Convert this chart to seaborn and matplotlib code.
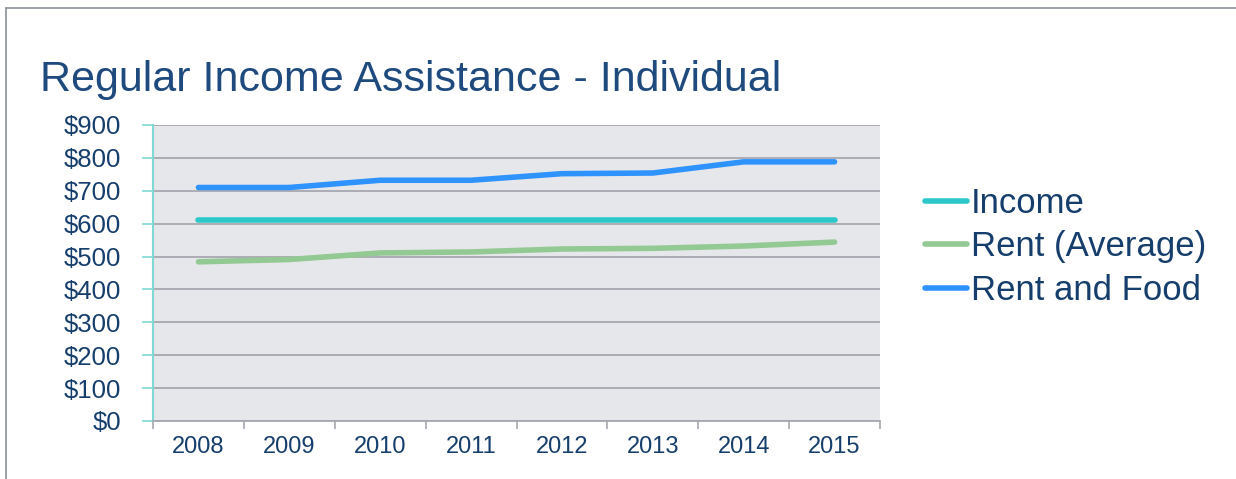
import matplotlib
matplotlib.use("Agg")
import matplotlib.pyplot as plt
from matplotlib.lines import Line2D
from matplotlib.ticker import FixedLocator, NullFormatter
import seaborn as sns
import pandas as pd

years = ["2008", "2009", "2010", "2011", "2012", "2013", "2014", "2015"]
income = [610, 610, 610, 610, 610, 610, 610, 610]
rent_average = [484, 491, 511, 514, 523, 525, 532, 544]
rent_and_food = [710, 710, 732, 732, 752, 754, 788, 788]
series_names = ["Income", "Rent (Average)", "Rent and Food"]
y_ticks = [0, 100, 200, 300, 400, 500, 600, 700, 800, 900]

colors = ["#2CC7C9", "#93C992", "#2E93FF"]
navy = "#163E6C"

df = pd.DataFrame({
    "Year": years * 3,
    "Value": income + rent_average + rent_and_food,
    "Series": [series_names[0]] * 8 + [series_names[1]] * 8 + [series_names[2]] * 8,
})
df["pos"] = df["Year"].map({y: i for i, y in enumerate(years)})

sns.set_theme(style="white")
plt.rcParams["font.family"] = ["Liberation Sans", "DejaVu Sans"]

fig = plt.figure(figsize=(12.36, 4.79), dpi=100)
ax = fig.add_axes([153 / 1236, 1 - 421 / 479, (880 - 153) / 1236, (421 - 125) / 479])
ax.set_facecolor("#E6E7EA")

sns.lineplot(data=df, x="pos", y="Value", hue="Series", palette=colors,
             hue_order=series_names, linewidth=4.0, ax=ax,
             solid_capstyle="round", legend=False)

ax.set_xlim(-0.5, len(years) - 0.5)
ax.set_ylim(0, 900)
ax.set_yticks(y_ticks)
ax.set_yticklabels([f"${v}" for v in y_ticks])
ax.yaxis.grid(True, color="#A7A7B1", linewidth=1.3)
ax.set_axisbelow(True)

ax.set_xticks(range(len(years)))
ax.set_xticklabels(years)
ax.xaxis.set_minor_locator(FixedLocator([i - 0.5 for i in range(len(years) + 1)]))
ax.xaxis.set_minor_formatter(NullFormatter())
ax.tick_params(axis="x", which="major", bottom=True, length=0, pad=11,
               labelsize=17, labelcolor=navy)
ax.tick_params(axis="x", which="minor", bottom=True, length=6, width=1.2,
               color="#A7A7B1", direction="out")
ax.tick_params(axis="y", which="major", left=True, length=8, width=1.2, color="#7FD8D4",
               pad=15, labelsize=18.5, labelcolor=navy, direction="out")
ax.set_xlabel("")
ax.set_ylabel("")

for side in ["top", "right"]:
    ax.spines[side].set_visible(False)
ax.spines["left"].set_color("#7FD8D4")
ax.spines["left"].set_linewidth(1.5)
ax.spines["bottom"].set_color("#A7A7B1")
ax.spines["bottom"].set_linewidth(1.3)

handles = [Line2D([0], [0], color=c, linewidth=4.0, solid_capstyle="round") for c in colors]
fig.legend(handles, series_names, loc="upper left", bbox_to_anchor=(925 / 1236, 1 - 187 / 479),
           frameon=False, fontsize=25, labelcolor=navy, handlelength=1.2,
           handletextpad=0.12, labelspacing=0.3, borderaxespad=0, borderpad=0)

fig.text(40 / 1236, 1 - 91 / 479, "Regular Income Assistance - Individual",
         fontsize=31, color="#1F4A7E", ha="left", va="baseline")

frame_color = "#8A8F99"
fig.add_artist(Line2D([6 / 1236, 1], [1 - 8 / 479, 1 - 8 / 479], color=frame_color,
                      linewidth=1.2, transform=fig.transFigure))
fig.add_artist(Line2D([6 / 1236, 6 / 1236], [0, 1 - 8 / 479], color=frame_color,
                      linewidth=1.2, transform=fig.transFigure))

fig.savefig("out.png", dpi=100, facecolor="white")
